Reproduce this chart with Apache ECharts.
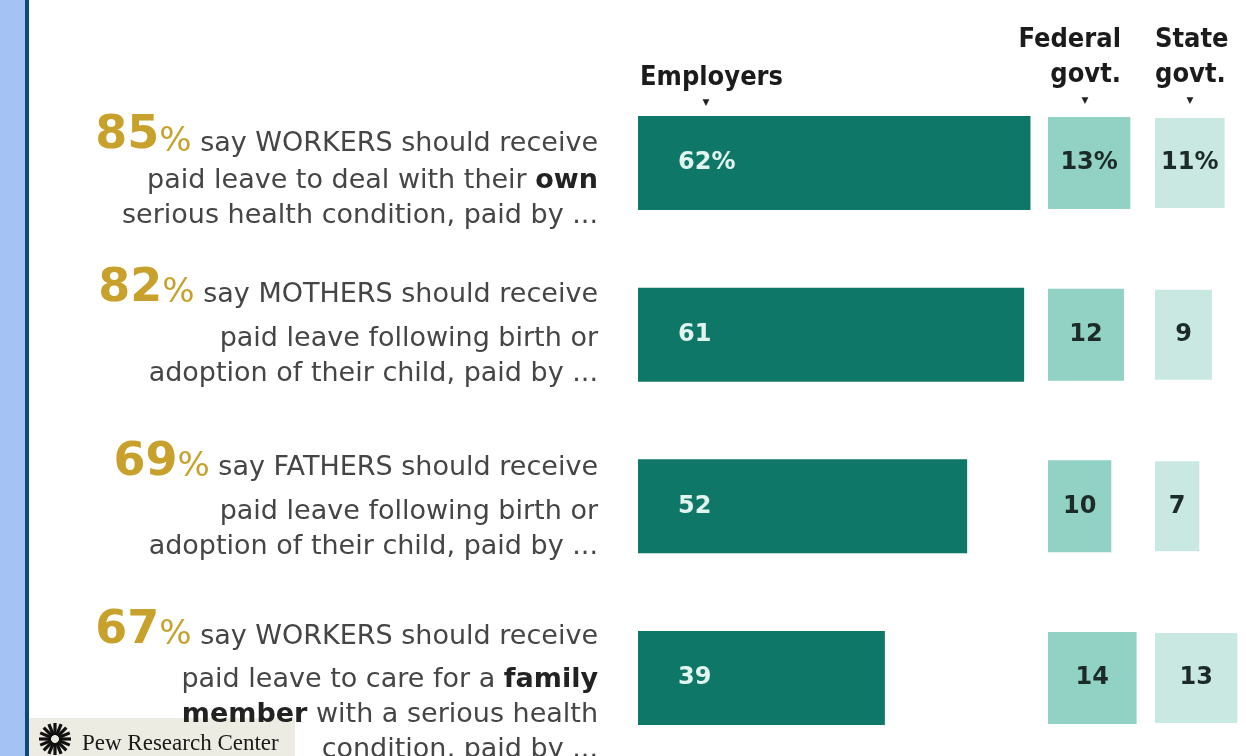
<!DOCTYPE html>
<html>
<head>
<meta charset="utf-8">
<script src="https://cdn.jsdelivr.net/npm/echarts@6/dist/echarts.min.js"></script>
<style>
  html, body { margin: 0; padding: 0; background: #fff; }
  #chart { width: 1246px; height: 756px; }
</style>
</head>
<body>
<div id="chart"></div>
<script>
// 数据
const pctSupport = [85, 82, 69, 67];
const questionLines = [
    ['say WORKERS should receive', 'paid leave to deal with their {b|own}', 'serious health condition, paid by ...'],
    ['say MOTHERS should receive', 'paid leave following birth or', 'adoption of their child, paid by ...'],
    ['say FATHERS should receive', 'paid leave following birth or', 'adoption of their child, paid by ...'],
    ['say WORKERS should receive', 'paid leave to care for a {b|family}', '{b|member} with a serious health', 'condition, paid by ...']
];
const employers = [62, 61, 52, 39];
const federalGovt = [13, 12, 10, 14];
const stateGovt = [11, 9, 7, 13];
const columnHeaders = ['Employers', 'Federal\ngovt.', 'State\ngovt.'];

(function () {
    const chart = echarts.init(document.getElementById('chart'));

    // 每个柱子像素/百分点
    const pxPerPt = 6.33;
    const sansFont = '"DejaVu Sans", "Liberation Sans", sans-serif';
    const headFont = '"DejaVu Sans Condensed", "DejaVu Sans", sans-serif';
    const textColor = '#454545';
    const gold = '#c8a12c';
    // 左侧文字块：上下微调 + 首行与第二行的间距
    const labelNudge = [8, -9, -7, 7];
    const firstGap = [37, 44, 44, 43];

    // 把纯文本段包成 {t|...}，粗体段保持 {b|...}
    function wrapLine(line, plainKey) {
        return line.split(/(\{b\|[^}]*\})/).filter(s => s).map(s =>
            s.indexOf('{b|') === 0 ? s : '{' + plainKey + '|' + s + '}'
        ).join('');
    }

    // 各块首行的富文本样式（大数字向下补偿，让基线对齐）
    const rich = {
        t: { fontFamily: sansFont, fontSize: 27, color: textColor, lineHeight: 35, verticalAlign: 'bottom' },
        b: { fontFamily: sansFont, fontSize: 27, fontWeight: 'bold', color: '#222', lineHeight: 35, verticalAlign: 'bottom' }
    };
    firstGap.forEach((gap, i) => {
        const lh = gap + 9;
        const base = gap - 35;
        rich['f' + i] = { fontFamily: sansFont, fontSize: 27, color: textColor, lineHeight: lh, padding: [0, 0, base, 0], verticalAlign: 'bottom' };
        rich['n' + i] = { fontFamily: sansFont, fontSize: 46, fontWeight: 'bold', color: gold, lineHeight: lh, padding: [0, 0, Math.max(base - 4, 0), 0], verticalAlign: 'bottom' };
        rich['s' + i] = { fontFamily: sansFont, fontSize: 34, color: gold, lineHeight: lh, padding: [0, 0, Math.max(base - 2, 0), 0], verticalAlign: 'bottom' };
    });

    const categories = questionLines.map((lines, i) => {
        const first = '{n' + i + '|' + pctSupport[i] + '}{s' + i + '|%}{f' + i + '| }' + wrapLine(lines[0], 'f' + i);
        const text = [first].concat(lines.slice(1).map(l => wrapLine(l, 't'))).join('\n');
        const n = labelNudge[i];
        return {
            value: text,
            textStyle: { padding: n >= 0 ? [2 * n, 0, 0, 0] : [0, 0, -2 * n, 0] }
        };
    });

    // 类目放在刻度上 (boundaryGap: false)，第一根柱中心 163，间距 171.7
    const gridTop = 163;
    const gridHeight = 515;
    const grids = [
        { left: 638, max: 64 },
        { left: 1048, max: 15 },
        { left: 1155, max: 14 }
    ];

    const barColors = ['#0f7767', '#91d2c4', '#c9e8e2'];
    const barWidths = [94, 92, 90];
    const seriesData = [employers, federalGovt, stateGovt];
    const seriesNames = ['Employers', 'Federal govt.', 'State govt.'];

    const headStyle = { font: 'bold 27px ' + headFont, fill: '#1b1b1b', verticalAlign: 'middle', lineHeight: 35 };
    const graphic = [
        // 左侧蓝色边条
        { type: 'rect', left: 0, top: 0, shape: { width: 25, height: 756 }, style: { fill: '#a4c2f4' }, silent: true },
        { type: 'rect', left: 25, top: 0, shape: { width: 4, height: 756 }, style: { fill: '#0b4a78' }, silent: true },
        // 列标题
        { type: 'text', x: 640, y: 78, style: Object.assign({ text: columnHeaders[0], align: 'left' }, headStyle) },
        { type: 'text', x: 1121, y: 57, style: Object.assign({ text: columnHeaders[1], align: 'right' }, headStyle) },
        { type: 'text', x: 1155, y: 57, style: Object.assign({ text: columnHeaders[2], align: 'left' }, headStyle) },
        { type: 'text', x: 706, y: 103, style: { text: '▼', font: '9px ' + sansFont, fill: '#222', align: 'center', verticalAlign: 'middle' } },
        { type: 'text', x: 1085, y: 101, style: { text: '▼', font: '9px ' + sansFont, fill: '#222', align: 'center', verticalAlign: 'middle' } },
        { type: 'text', x: 1190, y: 101, style: { text: '▼', font: '9px ' + sansFont, fill: '#222', align: 'center', verticalAlign: 'middle' } },
        // Pew 标志
        { type: 'rect', left: 29, top: 718, shape: { width: 266, height: 38 }, style: { fill: '#ecece2' }, silent: true },
        { type: 'text', x: 82, y: 744, style: { text: 'Pew Research Center', font: '23px "Liberation Serif", "DejaVu Serif", serif', fill: '#1a1a1a', align: 'left', verticalAlign: 'middle' } }
    ];
    // 标志里的放射线
    for (let k = 0; k < 16; k++) {
        const a = k * Math.PI / 8;
        graphic.push({
            type: 'line',
            shape: { x1: 55 + 4 * Math.cos(a), y1: 739 + 4 * Math.sin(a), x2: 55 + 16 * Math.cos(a), y2: 739 + 16 * Math.sin(a) },
            style: { stroke: '#111', lineWidth: 3.2 },
            silent: true
        });
    }

    chart.setOption({
        backgroundColor: '#ffffff',
        animation: false,
        grid: grids.map(g => ({
            left: g.left,
            top: gridTop,
            width: g.max * pxPerPt,
            height: gridHeight,
            containLabel: false,
            outerBoundsMode: 'none'
        })),
        xAxis: grids.map((g, i) => ({
            type: 'value',
            gridIndex: i,
            min: 0,
            max: g.max,
            show: false
        })),
        yAxis: grids.map((g, i) => ({
            type: 'category',
            gridIndex: i,
            inverse: true,
            boundaryGap: false,
            data: i === 0 ? categories : ['', '', '', ''],
            axisLine: { show: false },
            axisTick: { show: false },
            splitLine: { show: false },
            axisLabel: i === 0 ? {
                show: true,
                interval: 0,
                margin: 40,
                align: 'right',
                verticalAlign: 'middle',
                fontFamily: sansFont,
                fontSize: 27,
                lineHeight: 35,
                color: textColor,
                rich: rich
            } : { show: false }
        })),
        series: seriesData.map((data, i) => ({
            name: seriesNames[i],
            type: 'bar',
            xAxisIndex: i,
            yAxisIndex: i,
            data: data,
            barWidth: barWidths[i],
            clip: false,
            itemStyle: { color: barColors[i] },
            label: {
                show: true,
                position: i === 0 ? 'insideLeft' : 'inside',
                distance: 40,
                color: i === 0 ? '#e2f4ee' : '#1c2b28',
                fontFamily: sansFont,
                fontWeight: 'bold',
                fontSize: 24,
                formatter: p => p.dataIndex === 0 ? p.value + '%' : String(p.value)
            }
        })),
        graphic: graphic
    });
})();
</script>
</body>
</html>
